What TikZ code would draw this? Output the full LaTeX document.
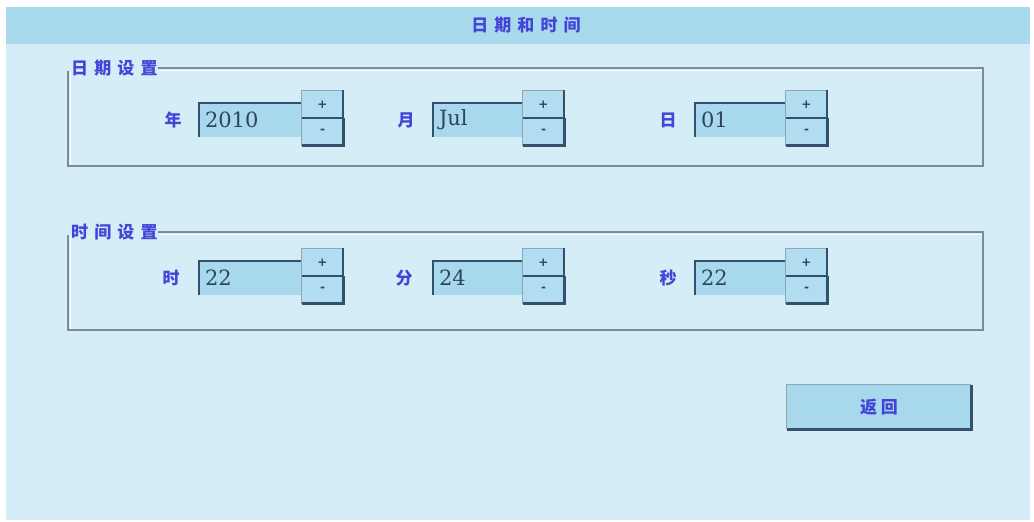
\documentclass[tikz,border=0pt]{standalone}
\usepackage{fontspec}
\newfontfamily\cjk{Noto Sans CJK SC}
\newfontfamily\cjkls[LetterSpace=22]{Noto Sans CJK SC}
\newfontfamily\cjkwide[LetterSpace=36]{Noto Sans CJK SC}
\newfontfamily\valfont{DejaVu Serif}
\newfontfamily\pmfont{DejaVu Sans}
\definecolor{barc}{HTML}{A9D9ED}
\definecolor{bodyc}{HTML}{D4EDF6}
\definecolor{fieldc}{HTML}{A8D8EC}
\definecolor{btnc}{HTML}{B2DDF0}
\definecolor{lblc}{HTML}{4444D8}
\definecolor{valc}{HTML}{2B4560}
\definecolor{dkc}{HTML}{34506C}
\definecolor{grpc}{HTML}{7A8B9C}
\definecolor{ltc}{HTML}{8FA6B8}
\tikzset{
  lbl/.style={inner sep=0pt, text=lblc, font=\cjk\bfseries\fontsize{17}{17}\selectfont},
  grplbl/.style={inner sep=0pt, anchor=west, text=lblc, font=\cjkwide\bfseries\fontsize{17}{17}\selectfont},
  ttl/.style={inner sep=0pt, text=lblc, font=\cjkwide\bfseries\fontsize{17}{17}\selectfont},
  field/.style={inner sep=0pt, fill=fieldc, draw=none},
  btn/.style={inner sep=0pt, fill=btnc, draw=none, text=valc, font=\pmfont\bfseries\fontsize{12}{12}\selectfont},
  val/.style={inner sep=0pt, anchor=west, text=valc, font=\valfont\fontsize{21}{21}\selectfont},
  dk/.style={draw=dkc},
  lt/.style={draw=ltc, line width=0.8pt},
  grp/.style={draw=grpc, line width=1.5pt},
}
% #1 id, #2 label x, #3 label, #4 field x1, #5 field x2, #6 button x2, #7 field top, #8 field bottom, #9 value
\newcommand{\spinbox}[9]{%
  \node[lbl] (#1l) at (#2,{(#7+#8)/2}) {#3};
  \node[field, minimum width={(#5-#4)*1pt}, minimum height={(#8-#7)*1pt}] (#1f) at ({(#4+#5)/2},{(#7+#8)/2}) {};
  \node[val] (#1v) at ([xshift=6pt]#1f.west) {#9};
  \node[btn, minimum width={(#6-#5)*1pt}, minimum height={((#7+#8)/2-2-(#7-12.5))*1pt}] (#1p) at ({(#5+#6)/2},{((#7-12.5)+((#7+#8)/2-2))/2}) {+};
  \node[btn, minimum width={(#6-#5)*1pt}, minimum height={((#8+8.5)-((#7+#8)/2-2))*1pt}] (#1m) at ({(#5+#6)/2},{((#8+8.5)+((#7+#8)/2-2))/2}) {-};
  \draw[dk, line width=2pt] (#1f.south west) -- (#1f.north west) -- (#1f.north east);
  \draw[lt] (#1p.south west) -- (#1p.north west) -- (#1p.north east);
  \draw[lt] (#1m.south west) -- (#1m.north west);
  \draw[dk, line width=2.2pt] (#1p.north east) -- (#1p.south east) -- (#1p.south west);
  \draw[dk, line width=2.6pt] (#1m.north east) -- (#1m.south east) -- (#1m.south west);
}
\begin{document}
\begin{tikzpicture}[x=1pt,y=-1pt]
\useasboundingbox (0,0) rectangle (1034,522);
\fill[white] (0,0) rectangle (1034,522);
\fill[bodyc] (6,7) rectangle (1030,520);
\fill[barc] (6,7) rectangle (1030,44);
\node[ttl] (title) at (526,25) {日期和时间};

% date group
\node[grplbl] (g1l) at (71,68) {日期设置};
\draw[grp] (g1l.east) -- (983,68) -- (983,166) -- (68,166) -- (68,71);
\draw[white, line width=0.8pt] ([xshift=2pt,yshift=-2pt]g1l.east) -- (981.5,70);
\draw[white, line width=0.8pt] (70,72) -- (70,164.5);
% time group
\node[grplbl] (g2l) at (71,232) {时间设置};
\draw[grp] (g2l.east) -- (983,232) -- (983,330) -- (68,330) -- (68,235);
\draw[white, line width=0.8pt] ([xshift=2pt,yshift=-2pt]g2l.east) -- (981.5,234);
\draw[white, line width=0.8pt] (70,236) -- (70,328.5);

\spinbox{y}{173}{年}{199}{302}{343}{103}{137}{2010}
\spinbox{mo}{406}{月}{433}{523}{564}{103}{137}{Jul}
\spinbox{d}{668}{日}{695}{786}{827}{103}{137}{01}
\spinbox{h}{171}{时}{199}{302}{343}{261}{295}{22}
\spinbox{mi}{404}{分}{433}{523}{564}{261}{295}{24}
\spinbox{s}{668}{秒}{695}{786}{827}{261}{295}{22}

% return button
\node[field, minimum width=184pt, minimum height=44pt] (ret) at (879,407) {};
\node[lbl, font=\cjkls\bfseries\fontsize{17}{17}\selectfont] (retl) at (879,407) {返回};
\draw[lt] (ret.south west) -- (ret.north west) -- (ret.north east);
\draw[dk, line width=3pt] (ret.north east) -- (ret.south east) -- (ret.south west);
\end{tikzpicture}
\end{document}
